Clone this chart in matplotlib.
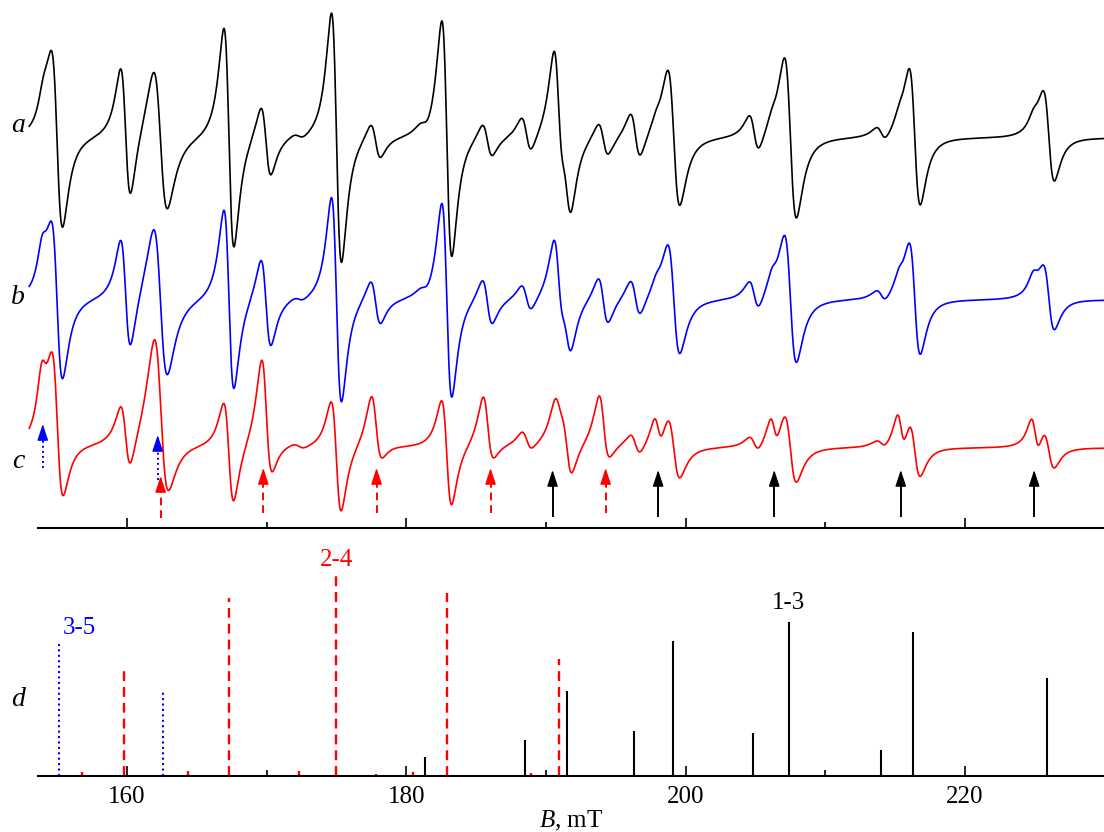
import numpy as np
import matplotlib.pyplot as plt
from matplotlib.ticker import MultipleLocator

plt.rcParams['font.family'] = ['Liberation Serif', 'DejaVu Serif']
plt.rcParams['mathtext.fontset'] = 'custom'
plt.rcParams['mathtext.it'] = 'Liberation Serif:italic'
plt.rcParams['mathtext.rm'] = 'Liberation Serif'

# ---- spectra a, b, c: resonance lines (mT), half-widths, derivative p-p amplitudes ----
line_pos = [154.0, 155.0, 159.9, 162.4, 167.3, 169.95, 172.3, 175.0, 177.8, 181.3, 182.9,
            185.8, 188.6, 190.9, 191.5, 194.1, 196.4, 198.0, 199.15, 204.9, 206.3, 207.5,
            214.0, 215.4, 216.4, 225.0, 226.0]
line_w = [0.45, 0.68, 0.62, 0.85, 0.62, 0.62, 0.7, 0.62, 0.62, 0.7, 0.62,
          0.62, 0.62, 0.62, 0.62, 0.62, 0.62, 0.5, 0.74, 0.62, 0.5, 0.74,
          0.62, 0.5, 0.68, 0.5, 0.68]
a_pp = [0, 170, 130, 140, 220, 70, 6, 250, 35, 10, 237,
        33, 35, 138, 87, 33, 45, 5, 135, 37, 5, 160,
        14, 5, 135, 5, 88]
a_abs = [25, -10, 0, 0, 0, 0, 0, 0, 0, 0, 0,
         0, 0, 0, 0, 0, 0, 8, 0, 0, 8, 0,
         0, 10, 0, 12, 0]
b_pp = [10, 150, 110, 148, 180, 88, 5, 205, 44, 8, 195,
        45, 26, 95, 60, 46, 36, 5, 108, 29, 8, 126,
        12, 8, 110, 8, 62]
b_abs = [36, -10, 0, 0, 0, 0, 0, 0, 0, 0, 0,
         0, 0, 0, 0, 0, 0, 10, 0, 0, 14, 0,
         0, 12, 0, 16, 0]
c_pp = [20, 135, 64, 150, 100, 110, 5, 110, 60, 0, 105,
        60, 18, 35, 55, 60, 20, 28, 60, 15, 28, 68,
        8, 36, 55, 34, 38]
c_abs = [50, 20, 0, 45, -12, 45, 0, -15, 30, 0, -10,
         28, 5, 20, 0, 28, 0, 10, 0, 0, 10, 0,
         0, 10, 0, 8, 0]

# ---- arrows marking lines in spectrum c ----
blue_arrows = [153.97, 162.2]
red_arrows = [162.41, 169.76, 177.87, 186.03, 194.27]
black_arrows = [190.47, 198.03, 206.34, 215.4, 224.95]

# ---- stick spectrum d: positions (mT) and intensities ----
sticks_35 = [155.1, 162.6]
int_35 = [134, 86]
sticks_24 = [159.8, 167.3, 175.0, 182.9, 190.9]
int_24 = [109, 178, 204, 183, 117]
sticks_24_weak = [156.8, 164.4, 172.3, 177.8, 180.5, 185.3, 188.9]
int_24_weak = [4, 5, 5, 2, 4, 1, 3]
sticks_13 = [181.35, 188.5, 191.5, 196.3, 199.1, 204.8, 207.4, 214.0, 216.3, 225.9]
int_13 = [19, 36, 85, 45, 135, 43, 154, 26, 144, 98]


def spectrum(B, pp, absorb):
    # sum of first-derivative Lorentzian lines plus an absorption-like part
    y = np.zeros_like(B)
    for i in range(len(line_pos)):
        u = (B - line_pos[i]) / line_w[i]
        y += pp[i] * (-u / (1 + u**2)**2) / 0.6495
        y += absorb[i] / (1 + u**2)
    return y


W, H = 1104, 832
fig = plt.figure(figsize=(W / 100, H / 100), dpi=100)

x0, x1 = 153.63, 229.95
left = 38 / W

# upper panel with the three experimental spectra
ax = fig.add_axes([left, (H - 528) / H, 1 - left, 528 / H])
ax.set_xlim(x0, x1)
ax.set_ylim(0, 528)

B = np.linspace(153.0, 229.95, 4000)
ax.plot(B, 390 + spectrum(B, a_pp, a_abs), color='black', lw=1.2, clip_on=False)
ax.plot(B, 228 + spectrum(B, b_pp, b_abs), color='blue', lw=1.2, clip_on=False)
ax.plot(B, 80 + spectrum(B, c_pp, c_abs), color='red', lw=1.2, clip_on=False)


def arrow(x, tip, bottom, color, ls):
    ax.plot([x, x], [bottom, tip - 10], color=color, lw=1.4, linestyle=ls)
    ax.annotate('', xy=(x, tip), xytext=(x, tip - 16),
                arrowprops=dict(arrowstyle='-|>,head_length=1.0,head_width=0.33',
                                color=color, lw=1.0, shrinkA=0, shrinkB=0,
                                mutation_scale=10))


for x, tip, bot in zip(blue_arrows, [104, 93], [60, 48]):
    arrow(x, tip, bot, 'blue', (0, (1, 1.6)))
for i, x in enumerate(red_arrows):
    tip = 52 if i == 0 else 60
    arrow(x, tip, 10 if i == 0 else 15, 'red', (0, (4, 2.5)))
for x in black_arrows:
    arrow(x, 58, 12, 'black', '-')

for s in ['top', 'left', 'right']:
    ax.spines[s].set_visible(False)
ax.spines['bottom'].set_linewidth(1.5)
ax.set_yticks([])
ax.xaxis.set_major_locator(MultipleLocator(20))
ax.xaxis.set_minor_locator(MultipleLocator(10))
ax.tick_params(axis='x', which='both', direction='in', labelbottom=False, width=1.2)
ax.tick_params(axis='x', which='major', length=7)
ax.tick_params(axis='x', which='minor', length=4.5)

# lower panel with stick diagram
ax2 = fig.add_axes([left, (H - 776) / H, 1 - left, 236 / H])
ax2.set_xlim(x0, x1)
ax2.set_ylim(0, 236)
ax2.vlines(sticks_35, 0, int_35, colors='blue', lw=1.5, linestyles=[(0, (1, 1.6))])
ax2.vlines(sticks_24, 0, int_24, colors='red', lw=1.7, linestyles=[(0, (4.2, 2.5))])
ax2.vlines(sticks_24_weak, 0, int_24_weak, colors='red', lw=1.7)
ax2.vlines(sticks_13, 0, int_13, colors='black', lw=1.5)

ax2.text(155.42, 148, '3-5', color='blue', fontsize=18, ha='left', va='center')
ax2.text(175.0, 216, '2-4', color='red', fontsize=18, ha='center', va='center')
ax2.text(207.35, 173, '1-3', color='black', fontsize=18, ha='center', va='center')

for s in ['top', 'left', 'right']:
    ax2.spines[s].set_visible(False)
ax2.spines['bottom'].set_linewidth(1.5)
ax2.set_yticks([])
ax2.xaxis.set_major_locator(MultipleLocator(20))
ax2.xaxis.set_minor_locator(MultipleLocator(10))
ax2.tick_params(axis='x', which='both', direction='in', width=1.2, labelsize=18, pad=7)
ax2.tick_params(axis='x', which='major', length=7)
ax2.tick_params(axis='x', which='minor', length=4.5)
ax2.set_xlabel('$B$, mT', fontsize=18, labelpad=1)

for lab, ypx in [('a', 125), ('b', 298), ('c', 462), ('d', 700)]:
    fig.text(18 / W, 1 - ypx / H, lab, fontsize=20, fontstyle='italic',
             ha='center', va='center')

fig.savefig('out.png', dpi=100)
